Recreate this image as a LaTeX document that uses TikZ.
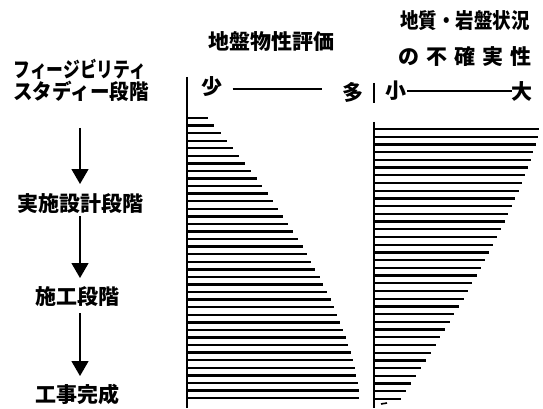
\documentclass[tikz,border=0pt]{standalone}
\usepackage{fontspec}
\setmainfont{Noto Sans CJK JP}
\usetikzlibrary{arrows.meta}
\tikzset{
  lbl/.style={inner sep=0pt, font=\fontsize{21}{24}\selectfont\bfseries},
  flowarrow/.style={line width=1.4pt, -{Triangle[width=17pt,length=15pt]}},
  axisline/.style={line width=1.4pt},
  bar/.style={line width=2.4pt},
  scaleline/.style={line width=1.4pt}
}
\begin{document}
\begin{tikzpicture}[x=1pt,y=-1pt]
\useasboundingbox (0,0) rectangle (543,409);
% stage labels
\node[lbl] (fs1) at (80,69) {\scalebox{0.8}[1]{フィージビリティ}};
\node[lbl] (fs2) at (81,91) {\scalebox{0.93}[1]{スタディー段階}};
\node[lbl] (jis) at (80,204) {実施設計段階};
\node[lbl] (seko) at (77,297) {施工段階};
\node[lbl] (kan) at (77,394) {工事完成};
% arrow ends
\coordinate (a1s) at (80,128); \coordinate (a1e) at (80,184);
\coordinate (a2s) at (80,216); \coordinate (a2e) at (80,278);
\coordinate (a3s) at (80,313); \coordinate (a3e) at (80,376);
\draw[flowarrow] (a1s) -- (a1e);
\draw[flowarrow] (a2s) -- (a2e);
\draw[flowarrow] (a3s) -- (a3e);
% headings
\node[lbl] (h1) at (271,42) {地盤物性評価};
\node[lbl] (h2a) at (465,21) {\scalebox{0.88}[1]{地質・岩盤状況}};
\node[lbl] (h2b) at (465,57) {の\hspace{7pt}不\hspace{7pt}確\hspace{7pt}実\hspace{7pt}性};
% scale labels
\node[lbl] (sho) at (212,87) {少};
\node[lbl] (ta) at (353,92) {多};
\node[lbl] (sm) at (396,91) {小};
\node[lbl] (dai) at (522,91) {大};
\draw[scaleline] (sho.east) ++(10,2) coordinate (l1s) -- (322,89) coordinate (l1e);
\draw[scaleline] (407,91) coordinate (l2s) -- (512,91) coordinate (l2e);
% axes
\draw[axisline] (187,77) -- (187,408);
\draw[axisline] (374,83) -- (374,103);
\draw[axisline] (374,122) -- (374,408);
% left bars
\foreach \i in {0,...,37}{
  \pgfmathsetmacro\t{\i/37}
  \pgfmathsetmacro\yy{118+\i*280/37}
  \pgfmathsetmacro\L{21+151*(1-(1.0001-\t)^1.6)}
  \draw[bar] (187,\yy) -- ++(\L,0);
}
% right bars
\foreach \i in {0,...,35}{
  \pgfmathsetmacro\t{\i/35}
  \pgfmathsetmacro\yy{129+\i*270/35}
  \pgfmathsetmacro\L{165-138*(\t+0.0001)^1.3}
  \draw[bar] (374,\yy) -- ++(\L,0);
}
\draw[line width=1.6pt] (381,404) -- (387,403);
\end{tikzpicture}
\end{document}
